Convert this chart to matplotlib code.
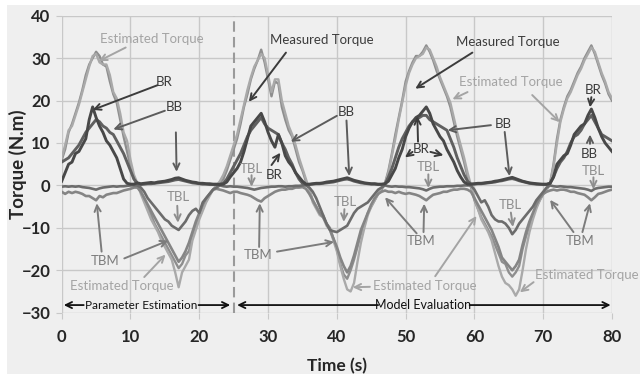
import matplotlib
matplotlib.use("Agg")
import matplotlib.pyplot as plt
import numpy as np
from matplotlib.patches import Rectangle

plt.rcParams['font.family'] = ['Lato', 'DejaVu Sans']

# sample times: 0 .. 80 s every 0.5 s (161 samples)
time_s = np.arange(161) * 0.5

measured_torque = [
    6.0, 8.5, 12.5, 14.5, 17.0, 19.5, 22.5, 26.0, 28.5, 30.0,
    31.5, 30.5, 28.5, 28.0, 24.5, 21.5, 19.5, 15.5, 11.5, 8.0,
    4.5, 1.5, 0.0, -1.5, -3.0, -5.0, -7.0, -9.0, -10.5, -12.0,
    -13.5, -15.0, -16.5, -18.0, -19.5, -18.5, -16.5, -15.5, -12.0, -9.5,
    -7.5, -5.5, -3.5, -2.0, -1.0, 0.0, 0.5, 1.5, 3.5, 6.0,
    8.5, 11.0, 14.5, 18.5, 21.5, 25.0, 27.5, 29.5, 32.0, 29.0,
    25.0, 21.0, 24.5, 24.0, 18.5, 15.5, 13.0, 11.5, 8.5, 5.5,
    3.5, 1.0, -1.0, -3.5, -5.0, -6.5, -7.0, -9.0, -10.0, -12.5,
    -15.0, -18.5, -21.0, -22.0, -20.0, -17.5, -14.5, -11.5, -9.0, -6.5,
    -5.0, -3.5, -2.0, -1.0, 0.5, 3.5, 7.5, 12.0, 16.0, 20.0,
    24.5, 27.0, 29.0, 30.5, 30.5, 31.5, 33.0, 31.5, 29.5, 27.0,
    25.0, 23.0, 21.0, 18.5, 15.0, 11.5, 8.5, 5.5, 2.0, -0.5,
    -3.5, -5.5, -7.5, -9.0, -10.5, -12.0, -14.0, -16.0, -18.0, -18.5,
    -20.5, -21.5, -20.5, -19.0, -15.0, -12.0, -9.5, -7.0, -5.0, -3.5,
    -2.0, -1.0, 0.5, 5.0, 11.0, 15.5, 18.5, 21.0, 22.5, 24.5,
    26.5, 28.0, 30.0, 31.5, 33.0, 31.0, 28.5, 26.0, 24.0, 21.5,
    20.0,
]

estimated_torque = [
    6.5, 9.5, 13.0, 14.0, 16.5, 19.0, 22.0, 25.0, 28.0, 30.5,
    31.0, 29.0, 28.5, 28.5, 26.0, 22.0, 20.5, 17.0, 12.5, 10.5,
    6.0, 2.5, 0.5, -2.0, -4.0, -6.0, -8.0, -9.5, -11.0, -13.0,
    -14.5, -16.0, -17.5, -20.5, -24.0, -20.5, -19.0, -17.5, -13.0, -10.5,
    -8.0, -6.0, -4.0, -2.5, -1.0, 0.0, 1.0, 2.5, 4.5, 7.0,
    9.5, 12.0, 15.5, 19.0, 22.5, 25.5, 28.0, 29.5, 31.0, 30.0,
    26.0, 22.0, 25.0, 25.0, 20.0, 17.0, 14.0, 12.0, 9.5, 6.5,
    4.0, 1.5, -1.0, -4.0, -5.5, -7.0, -7.5, -9.5, -10.5, -13.0,
    -15.5, -19.0, -22.0, -24.5, -25.0, -23.0, -18.0, -13.5, -10.0, -7.0,
    -5.0, -3.5, -2.0, -0.5, 0.5, 3.0, 7.0, 11.0, 15.5, 19.5,
    23.5, 26.5, 28.5, 30.0, 30.5, 31.0, 32.5, 32.0, 30.0, 28.0,
    25.5, 23.5, 21.5, 19.5, 16.0, 12.5, 9.5, 6.5, 3.0, 0.0,
    -3.0, -5.5, -8.0, -9.5, -11.0, -13.0, -16.0, -19.0, -21.5, -23.0,
    -23.5, -24.5, -26.0, -24.5, -20.0, -15.0, -11.0, -8.0, -5.5, -3.5,
    -2.0, -1.0, 0.5, 4.5, 10.0, 15.0, 18.0, 20.5, 22.0, 24.0,
    26.0, 27.5, 29.5, 31.0, 32.5, 31.5, 29.0, 26.5, 24.5, 22.0,
    20.5,
]

br_torque = [
    1.0, 3.0, 5.0, 5.5, 7.5, 8.0, 9.5, 11.0, 15.5, 18.5,
    16.0, 14.0, 12.5, 10.5, 9.5, 8.0, 6.5, 4.0, 1.5, 0.5,
    0.3, 0.3, 0.6, 0.4, 0.5, 0.6, 0.7, 0.6, 0.8, 0.9,
    1.0, 1.2, 1.4, 1.7, 1.8, 1.5, 1.2, 1.0, 0.8, 0.7,
    0.5, 0.5, 0.4, 0.4, 0.3, 0.3, 0.2, 0.3, 0.8, 2.0,
    3.0, 4.0, 5.5, 8.0, 11.0, 14.0, 15.0, 16.0, 17.0, 15.0,
    12.5, 10.5, 9.0, 12.0, 10.0, 7.0, 5.5, 4.5, 3.0, 2.0,
    1.0, 0.3, 0.3, 0.4, 0.5, 0.5, 0.6, 0.8, 0.9, 1.0,
    1.2, 1.4, 1.6, 1.8, 1.5, 1.2, 1.0, 0.8, 0.6, 0.5,
    0.4, 0.4, 0.3, 0.3, 0.4, 1.0, 2.5, 4.0, 6.5, 8.5,
    11.5, 13.5, 15.0, 16.0, 16.5, 17.5, 18.5, 17.0, 14.5, 13.0,
    11.5, 10.5, 8.5, 7.0, 5.5, 3.5, 2.0, 0.8, 0.3, 0.3,
    0.4, 0.5, 0.5, 0.6, 0.7, 0.8, 1.0, 1.1, 1.3, 1.5,
    1.7, 1.9, 1.6, 1.3, 1.0, 0.8, 0.6, 0.5, 0.4, 0.3,
    0.3, 0.3, 0.5, 2.0, 5.0, 6.0, 7.0, 7.5, 9.5, 12.0,
    13.0, 14.0, 14.5, 16.5, 18.0, 16.0, 13.5, 11.5, 10.0, 9.0,
    8.0,
]

bb_torque = [
    5.5, 6.0, 6.5, 7.5, 8.5, 9.5, 11.0, 12.5, 13.5, 14.5,
    15.5, 15.0, 14.0, 13.5, 12.5, 12.0, 10.5, 9.0, 7.5, 5.5,
    3.5, 1.5, 0.5, 0.2, 0.3, 0.4, 0.4, 0.5, 0.6, 0.7,
    0.8, 0.9, 1.1, 1.3, 1.4, 1.2, 1.0, 0.8, 0.6, 0.5,
    0.4, 0.3, 0.3, 0.2, 0.2, 0.2, 0.3, 0.5, 1.5, 3.0,
    4.5, 6.0, 7.5, 9.5, 11.5, 13.0, 14.0, 15.0, 16.0, 14.5,
    13.5, 13.0, 12.5, 12.0, 10.0, 8.5, 6.5, 5.0, 3.0, 1.5,
    0.5, 0.2, 0.2, 0.3, 0.4, 0.4, 0.5, 0.6, 0.7, 0.8,
    1.0, 1.2, 1.4, 1.5, 1.3, 1.0, 0.8, 0.6, 0.5, 0.4,
    0.3, 0.3, 0.2, 0.2, 0.3, 2.0, 4.0, 6.5, 9.0, 11.0,
    12.5, 14.0, 15.0, 15.5, 16.0, 16.5, 16.5, 15.5, 15.0, 14.5,
    14.0, 13.5, 13.0, 11.0, 9.0, 6.5, 4.5, 2.5, 1.0, 0.3,
    0.3, 0.4, 0.4, 0.5, 0.6, 0.7, 0.8, 1.0, 1.1, 1.3,
    1.5, 1.6, 1.4, 1.1, 0.9, 0.7, 0.5, 0.4, 0.3, 0.3,
    0.2, 0.2, 0.5, 2.0, 4.0, 5.5, 6.5, 8.0, 10.0, 11.5,
    12.0, 13.0, 14.5, 15.5, 16.5, 15.0, 13.5, 12.0, 11.5, 11.0,
    10.5,
]

tbl_torque = [
    -0.3, -0.2, -0.3, -0.2, -0.3, -0.2, -0.4, -0.5, -0.6, -0.8,
    -1.0, -0.7, -0.5, -0.4, -0.3, -0.2, -0.3, -0.2, -0.2, -0.1,
    0.0, 0.0, 0.0, -0.5, -1.5, -3.0, -4.0, -5.0, -6.0, -7.0,
    -8.0, -8.5, -9.5, -10.0, -10.5, -9.5, -8.5, -7.0, -6.0, -5.5,
    -6.5, -4.0, -3.0, -2.0, -1.0, -0.5, 0.0, -0.2, -0.3, -0.2,
    -0.3, -0.3, -0.4, -0.5, -0.6, -0.8, -1.0, -0.8, -0.6, -0.5,
    -0.4, -0.3, -0.3, -0.2, -0.2, -0.3, -0.2, -0.2, -0.1, -0.1,
    0.0, 0.0, -0.5, -1.5, -3.0, -5.0, -7.0, -9.0, -10.5, -10.8,
    -11.0, -10.5, -10.0, -9.5, -8.0, -6.5, -5.5, -5.0, -4.5, -4.0,
    -3.0, -2.0, -1.0, -0.5, 0.0, -0.2, -0.3, -0.2, -0.3, -0.3,
    -0.4, -0.4, -0.5, -0.6, -0.7, -0.9, -1.2, -0.8, -0.5, -0.4,
    -0.3, -0.3, -0.2, -0.2, -0.2, -0.1, -0.1, 0.0, 0.0, 0.0,
    -1.0, -2.5, -4.0, -3.5, -5.0, -7.0, -8.0, -8.5, -8.5, -9.0,
    -10.0, -11.5, -10.5, -9.0, -8.0, -7.0, -6.0, -5.0, -3.5, -2.5,
    -1.5, -0.5, 0.0, -0.2, -0.3, -0.2, -0.3, -0.4, -0.4, -0.5,
    -0.6, -0.7, -0.8, -1.0, -1.3, -0.8, -0.6, -0.5, -0.4, -0.3,
    -0.3,
]

tbm_torque = [
    -1.5, -2.0, -1.5, -1.8, -1.5, -1.7, -2.0, -2.5, -2.5, -3.0,
    -3.5, -2.5, -2.8, -2.2, -2.0, -1.8, -1.8, -1.5, -1.2, -1.0,
    -0.8, -0.5, -0.5, -1.5, -3.0, -4.5, -6.0, -7.5, -9.0, -10.5,
    -12.0, -13.5, -15.0, -16.5, -18.0, -17.0, -15.5, -13.5, -11.0, -8.5,
    -6.5, -4.5, -3.0, -2.0, -1.0, -0.8, -1.0, -1.2, -1.5, -1.8,
    -1.5, -1.5, -1.8, -2.0, -2.2, -2.5, -3.0, -3.5, -3.8, -3.0,
    -2.5, -2.0, -1.5, -1.2, -1.0, -1.0, -0.8, -0.8, -0.5, -0.5,
    -0.4, -0.8, -2.0, -3.5, -5.0, -6.5, -7.5, -9.0, -10.5, -12.5,
    -14.5, -17.0, -19.0, -20.5, -19.0, -16.5, -13.5, -10.5, -8.5, -6.5,
    -4.5, -3.0, -2.0, -1.5, -1.2, -1.5, -1.5, -1.8, -1.5, -1.8,
    -2.0, -1.8, -2.0, -2.2, -2.5, -3.0, -3.5, -2.8, -2.2, -2.0,
    -1.8, -1.5, -1.5, -1.2, -1.0, -1.0, -0.8, -0.8, -1.0, -1.5,
    -3.0, -4.5, -6.0, -7.5, -9.0, -10.5, -12.5, -14.5, -17.0, -18.0,
    -19.0, -20.0, -19.0, -17.5, -14.0, -11.0, -8.5, -6.5, -4.5, -3.0,
    -2.0, -1.5, -1.2, -1.0, -1.2, -1.0, -1.0, -1.2, -1.5, -1.5,
    -1.8, -2.0, -2.2, -2.8, -3.5, -2.8, -2.0, -1.8, -1.5, -1.2,
    -1.0,
]

x_ticks = [0, 10, 20, 30, 40, 50, 60, 70, 80]
y_ticks = [-30, -20, -10, 0, 10, 20, 30, 40]

EST_C = '#a4a4a4'
MEAS_C = '#3c3c3c'
BR_C = '#3c3c3c'
BB_C = '#3c3c3c'
BB_ARROW = '#5c5c5c'
TBL_C = '#8e8e8e'
TBM_C = '#7c7c7c'

# (label, text x, text y, text colour, arrow colour, [(x0, y0, x1, y1), ...])
callouts = [
    ("Estimated Torque", 13.1, 34.5, EST_C, EST_C, [(9.3, 32.5, 5.4, 29.3)]),
    ("BR", 14.9, 24.4, BR_C, BR_C, [(13.9, 23.6, 4.5, 17.8)]),
    ("BB", 16.3, 18.4, BB_C, BB_ARROW, [(15.0, 17.6, 7.5, 13.2), (16.6, 12.5, 16.7, 3.2)]),
    ("TBL", 16.9, -2.8, TBL_C, TBL_C, [(16.8, -4.8, 16.9, -8.8)]),
    ("TBM", 6.3, -17.7, TBM_C, TBM_C, [(5.8, -15.6, 5.1, -4.2), (9.1, -17.2, 15.5, -13.0)]),
    ("Estimated Torque", 8.7, -23.6, EST_C, EST_C, [(12.0, -21.6, 15.1, -16.3)]),
    ("Measured Torque", 37.8, 34.3, MEAS_C, MEAS_C, [(32.6, 31.3, 27.2, 19.7)]),
    ("BB", 41.4, 17.3, BB_C, BB_ARROW, [(40.0, 16.4, 33.3, 10.3), (41.4, 15.3, 41.8, 2.2)]),
    ("TBL", 27.6, 3.9, TBL_C, TBL_C, [(27.6, 2.4, 27.6, -0.3)]),
    ("BR", 30.9, 2.4, BR_C, BR_C, [(30.5, 4.8, 31.8, 7.7)]),
    ("TBL", 41.2, -3.9, TBL_C, TBL_C, [(41.1, -5.6, 41.0, -8.6)]),
    ("TBM", 28.6, -16.5, TBM_C, TBM_C, [(28.7, -14.5, 28.8, -4.2), (31.3, -15.6, 39.6, -13.3)]),
    ("Estimated Torque", 52.8, -23.6, EST_C, EST_C, [(44.8, -23.9, 42.3, -24.0), (54.3, -21.4, 60.3, -7.2)]),
    ("TBM", 52.3, -13.0, TBM_C, TBM_C, [(51.6, -11.3, 47.0, -2.8), (52.6, -11.0, 52.7, -4.3)]),
    ("BR", 52.3, 8.6, BR_C, BR_C, [(51.0, 7.9, 49.9, 6.6), (53.6, 7.9, 55.5, 7.1), (51.8, 10.3, 51.7, 16.3)]),
    ("TBL", 53.3, 4.3, TBL_C, TBL_C, [(53.3, 2.6, 53.3, -0.6)]),
    ("Measured Torque", 64.9, 33.8, MEAS_C, MEAS_C, [(59.7, 31.3, 51.4, 22.8)]),
    ("Estimated Torque", 65.3, 24.4, EST_C, EST_C, [(59.0, 22.0, 56.8, 20.3), (68.4, 21.3, 72.4, 14.9)]),
    ("BB", 64.2, 14.5, BB_C, BB_ARROW, [(62.4, 14.2, 56.1, 13.0), (64.4, 12.6, 65.1, 2.2)]),
    ("TBL", 65.2, -4.7, TBL_C, TBL_C, [(65.3, -6.4, 65.6, -9.8)]),
    ("BR", 77.2, 22.6, BR_C, BR_C, [(77.0, 20.8, 76.8, 18.4)]),
    ("BB", 76.7, 7.5, BB_C, BB_ARROW, [(76.8, 9.8, 76.8, 12.0)]),
    ("TBL", 77.3, 3.5, TBL_C, TBL_C, [(77.3, 1.9, 77.3, -0.9)]),
    ("TBM", 75.3, -13.0, TBM_C, TBM_C, [(75.7, -11.0, 76.8, -4.2), (74.4, -11.0, 71.0, -3.4)]),
    ("Estimated Torque", 76.3, -21.2, EST_C, EST_C, [(68.6, -22.8, 66.6, -25.2)]),
]

# (label, text x, text y, font size, [(x0, y0, x1, y1), ...])
phases = [
    ("Parameter Estimation", 11.5, -28.2, 8.5, [(3.2, -28.2, 0.3, -28.2), (19.9, -28.2, 24.5, -28.2)]),
    ("Model Evaluation", 52.6, -28.2, 9, [(46.0, -28.2, 25.5, -28.2), (59.3, -28.2, 79.8, -28.2)]),
]
split_time = 25

W, H = 640, 374
fig = plt.figure(figsize=(W / 100, H / 100), dpi=100)
fig.patch.set_facecolor('white')
fig.add_artist(Rectangle((7 / W, 0), 1, 1 - 5 / H, transform=fig.transFigure,
                         facecolor='#efefef', edgecolor='none', zorder=-10))

ax = fig.add_axes([61.7 / W, 1 - 312.7 / H, (612 - 61.7) / W, (312.7 - 15.7) / H])
ax.set_facecolor('#efefef')
ax.set_xlim(0, 80)
ax.set_ylim(-30, 40)
ax.set_xticks(x_ticks)
ax.set_yticks(y_ticks)
ax.grid(True, color='#c8c8c8', lw=1)
ax.set_axisbelow(True)
for s in ax.spines.values():
    s.set_visible(False)
ax.tick_params(axis='both', length=4, color='#c8c8c8', labelsize=12, labelcolor='#262626')
ax.tick_params(axis='x', pad=8)
ax.tick_params(axis='y', pad=4)
for lbl in ax.get_xticklabels() + ax.get_yticklabels():
    lbl.set_fontweight('bold')

ax.plot(time_s, measured_torque, color='#8e8e8e', lw=1.7, zorder=3)
ax.plot(time_s, estimated_torque, color='#a9a9a9', lw=1.7, zorder=3)
ax.plot(time_s, tbm_torque, color='#858585', lw=1.9, zorder=4)
ax.plot(time_s, tbl_torque, color='#6c6c6c', lw=1.9, zorder=4)
ax.plot(time_s, bb_torque, color='#606060', lw=2.1, zorder=5)
ax.plot(time_s, br_torque, color='#484848', lw=2.1, zorder=5)

ax.axvline(split_time, color='#9a9a9a', lw=1.5, ls=(0, (5, 2.5)), zorder=2)

arrow_fmt = '->,head_length=0.45,head_width=0.22'
for label, tx, ty, tc, ac, arrows in callouts:
    ax.text(tx, ty, label, color=tc, fontsize=9.5, ha='center', va='center',
            zorder=7, clip_on=False)
    for x0, y0, x1, y1 in arrows:
        ax.annotate('', xy=(x1, y1), xytext=(x0, y0),
                    arrowprops=dict(arrowstyle=arrow_fmt, color=ac, lw=1.4,
                                    shrinkA=0, shrinkB=0), zorder=7)

for label, tx, ty, fs, arrows in phases:
    ax.text(tx, ty, label, color='#111111', fontsize=fs, ha='center', va='center',
            zorder=7)
    for x0, y0, x1, y1 in arrows:
        ax.annotate('', xy=(x1, y1), xytext=(x0, y0),
                    arrowprops=dict(arrowstyle=arrow_fmt, color='#111111', lw=1.3,
                                    shrinkA=0, shrinkB=0), zorder=7)

fig.text(337 / W, 1 - 366 / H, "Time (s)", fontsize=12.5, fontweight='bold',
         color='#262626', ha='center', va='center')
fig.text(18 / W, 1 - 164 / H, "Torque (N.m)", fontsize=13.5, fontweight='bold',
         color='#262626', ha='center', va='center', rotation=90)

fig.savefig("out.png", dpi=100)
